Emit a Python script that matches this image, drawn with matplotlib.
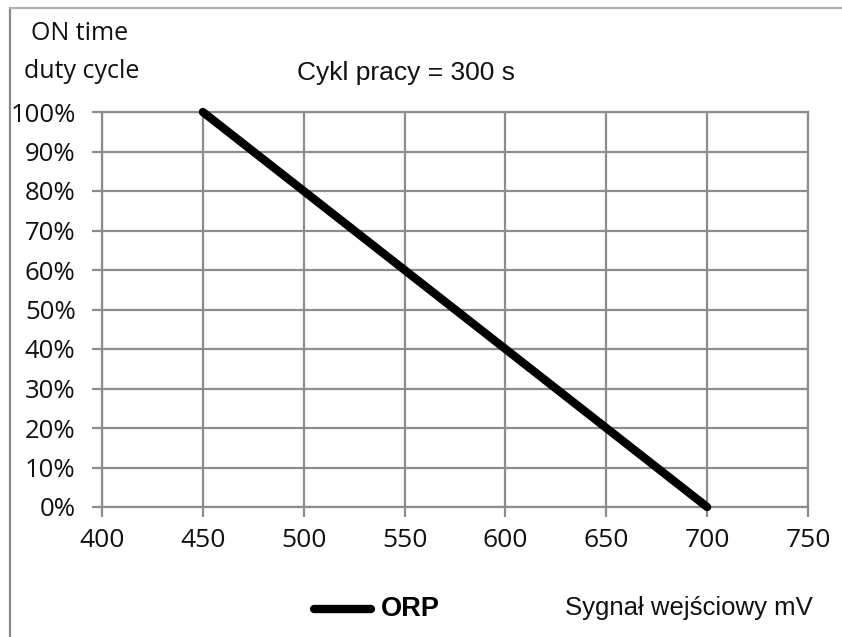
import matplotlib
matplotlib.use("Agg")
import matplotlib.pyplot as plt
from matplotlib.lines import Line2D

# Data
signal_mv = [450, 700]
duty_pct = [100, 0]
x_ticks = [400, 450, 500, 550, 600, 650, 700, 750]
y_ticks = [0, 10, 20, 30, 40, 50, 60, 70, 80, 90, 100]
y_labels = [f"{v}%" for v in y_ticks]

W, H = 842, 637
fig = plt.figure(figsize=(W / 100, H / 100), dpi=100)
fig.patch.set_facecolor("white")

# Outer frame lines (left and top edges)
fig.add_artist(Line2D([10 / W, 10 / W], [0, 1 - 8 / H], transform=fig.transFigure,
                      color="#8a8a8a", lw=1.6))
fig.add_artist(Line2D([10 / W, 1], [1 - 8 / H, 1 - 8 / H], transform=fig.transFigure,
                      color="#b0b0b0", lw=1.6))

left, right = 102 / W, 808 / W
bottom, top = 1 - 507 / H, 1 - 112 / H
ax = fig.add_axes([left, bottom, right - left, top - bottom])

grid_color = "#8c8c8c"
ax.set_xlim(400, 750)
ax.set_ylim(0, 100)
ax.set_xticks(x_ticks)
ax.set_yticks(y_ticks)
ax.set_yticklabels(y_labels)
ax.grid(True, color=grid_color, lw=1.6)
ax.set_axisbelow(True)
for s in ax.spines.values():
    s.set_color(grid_color)
    s.set_linewidth(1.6)
ax.tick_params(axis="both", color=grid_color, width=1.6, length=7,
               labelcolor="#111111")
ax.tick_params(axis="y", pad=12, labelsize=18.5)
ax.tick_params(axis="x", pad=8, labelsize=19)
for lab in ax.get_xticklabels() + ax.get_yticklabels():
    lab.set_family("Open Sans")

ax.plot(signal_mv, duty_pct, color="black", lw=6, solid_capstyle="round",
        clip_on=False, zorder=5)

# Texts
fig.text(80 / W, 1 - 33 / H, "ON time", family="Open Sans", fontsize=18,
         ha="center", va="center", color="#111111")
fig.text(82 / W, 1 - 71 / H, "duty cycle", family="Open Sans", fontsize=18,
         ha="center", va="center", color="#111111")
fig.text(297 / W, 1 - 73 / H, "Cykl pracy = 300 s", family="Liberation Sans",
         fontsize=19, ha="left", va="center", color="#111111")

# Legend-like entry and axis caption at the bottom
fig.add_artist(Line2D([314 / W, 371 / W], [1 - 609 / H, 1 - 609 / H],
                      transform=fig.transFigure, color="black", lw=6,
                      solid_capstyle="round"))
fig.text(381 / W, 1 - 609 / H, "ORP", family="Liberation Sans", fontsize=19.5,
         fontweight="bold", ha="left", va="center", color="black")
fig.text(565 / W, 1 - 608 / H, "Sygnał wejściowy mV", family="Liberation Sans",
         fontsize=18.5, ha="left", va="center", color="#111111")

fig.savefig("out.png", dpi=100)
